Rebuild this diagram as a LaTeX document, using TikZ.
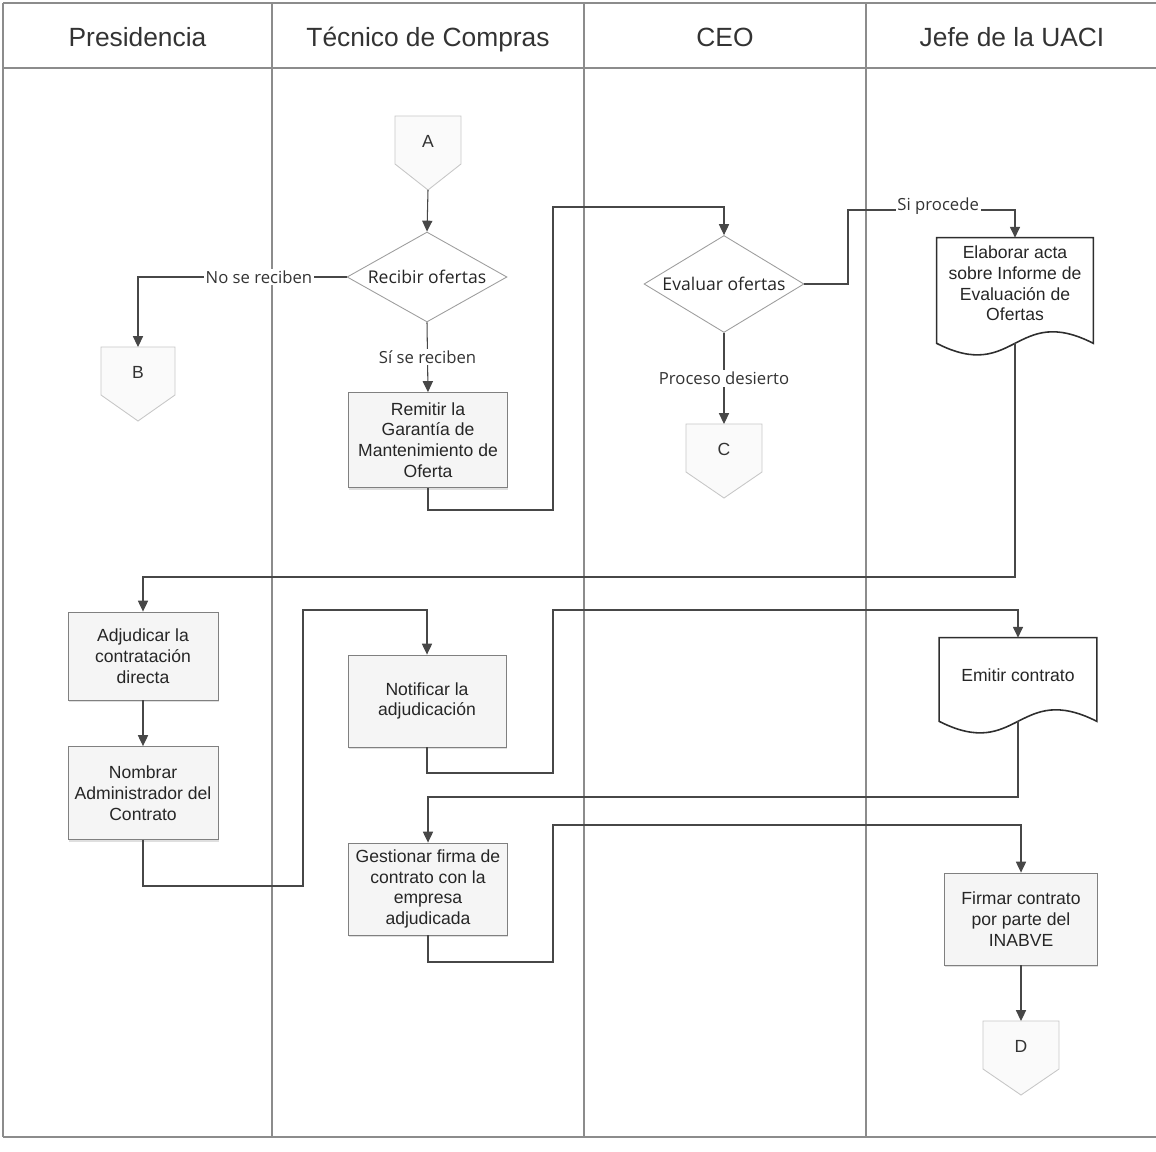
\documentclass[tikz,border=0pt]{standalone}
\usepackage{fontspec}
\setmainfont{Liberation Sans}
\newfontfamily\lblfont{Open Sans}
\usetikzlibrary{shapes.geometric,arrows.meta,calc,shadows}

\tikzset{
  lane/.style={draw=black!45, line width=0.6pt},
  conn/.style={draw=black!72, line width=0.6pt, -{Triangle[length=6.2pt,width=5.8pt]}},
  proc/.style={rectangle, draw=black!50, line width=0.5pt, fill=black!4,
    text=black!85, align=center, font=\fontsize{10}{11.8}\selectfont, inner sep=2pt,
    drop shadow={shadow xshift=0.4pt, shadow yshift=-1.4pt, opacity=0.25}},
  dec/.style={diamond, draw=black!38, fill=white, line width=0.5pt, text=black!85,
    font=\lblfont\fontsize{10}{12}\selectfont, aspect=1.8, inner sep=0pt},
  docbox/.style={rectangle, align=center, text=black!85,
    font=\fontsize{10}{11.8}\selectfont, inner sep=0pt},
  docline/.style={draw=black!82, line width=0.9pt},
  offline/.style={draw=black!22, fill=black!2, line width=0.5pt},
  offtext/.style={font=\fontsize{10}{12}\selectfont, text=black!80},
  lbl/.style={fill=white, inner sep=1pt, text=black!80,
    font=\lblfont\fontsize{9.5}{11}\selectfont},
  head/.style={anchor=base, font=\fontsize{15}{18}\selectfont, text=black!80}
}

% off-page connector: name, centre x, top y, width, letter
\newcommand{\offpage}[5]{%
  \draw[offline] (#2-#4/2,#3) -- (#2+#4/2,#3) -- (#2+#4/2,#3+48) -- (#2,#3+74)
    -- (#2-#4/2,#3+48) -- cycle;
  \node[offtext] (#1) at (#2,#3+25) {#5};
  \coordinate (#1in) at (#2,#3);
  \coordinate (#1out) at (#2,#3+74);
}

% document outline below a docbox node: name, drop of the wavy edge below the box
\newcommand{\docoutline}[2]{%
  \draw[docline] (#1.north west) -- (#1.north east) -- ($(#1.south east)+(0,#2)$)
    .. controls ($(#1.south)+(0,#2-40)$) and ($(#1.south)+(0,#2+40)$) ..
    ($(#1.south west)+(0,#2)$) -- cycle;
  \coordinate (#1out) at ($(#1.south)+(0,#2)$);
}

\begin{document}
\begin{tikzpicture}[x=0.02cm,y=-0.02cm]
\useasboundingbox (0,0) rectangle (1156,1152);

% swimlane frame
\draw[lane] (3,3) -- (1156,3);
\draw[lane] (3,68) -- (1156,68);
\draw[lane] (3,1137) -- (1156,1137);
\draw[lane] (3,3) -- (3,1137);
\draw[lane] (272,3) -- (272,1137);
\draw[lane] (584,3) -- (584,1137);
\draw[lane] (866,3) -- (866,1137);

\node[head] (h1) at (137.5,47) {Presidencia};
\node[head] (h2) at (428,47) {Técnico de Compras};
\node[head] (h3) at (725,47) {CEO};
\node[head] (h4) at (1012,47) {Jefe de la UACI};

% off-page connectors
\offpage{A}{428}{116}{66}{A}
\offpage{B}{138}{347}{74}{B}
\offpage{C}{724}{424}{76}{C}
\offpage{D}{1021}{1021}{76}{D}

% decisions
\node[dec, minimum width=3.2cm, minimum height=1.8cm] (rec) at (427,277) {Recibir ofertas};
\node[dec, minimum width=3.2cm, minimum height=1.94cm] (eval) at (724,284) {Evaluar ofertas};

% process steps
\node[proc, minimum width=3.18cm, minimum height=1.9cm] (rem) at (428,440)
  {Remitir la\\Garantía de\\Mantenimiento de\\Oferta};
\node[proc, minimum width=3.0cm, minimum height=1.76cm] (adj) at (143,656)
  {Adjudicar la\\contratación\\directa};
\node[proc, minimum width=3.0cm, minimum height=1.86cm] (nom) at (143,793)
  {Nombrar\\Administrador del\\Contrato};
\node[proc, minimum width=3.16cm, minimum height=1.84cm] (notif) at (427,701)
  {Notificar la\\adjudicación};
\node[proc, minimum width=3.18cm, minimum height=1.84cm] (gest) at (428,889)
  {Gestionar firma de\\contrato con la\\empresa\\adjudicada};
\node[proc, minimum width=3.06cm, minimum height=1.84cm] (firm) at (1021,919)
  {Firmar contrato\\por parte del\\INABVE};

% documents
\node[docbox, minimum width=3.12cm, minimum height=1.82cm] (elab) at (1015,283.5)
  {Elaborar acta\\sobre Informe de\\Evaluación de\\Ofertas};
\docoutline{elab}{14}

\node[docbox, minimum width=3.14cm, minimum height=1.48cm] (emit) at (1018,675)
  {Emitir contrato};
\docoutline{emit}{9}

% connectors
\draw[conn] (Aout) -- (rec.north);
\draw[conn] (rec.west) -| node[lbl, pos=0.21] {No se reciben} (Bin);
\draw[conn] (rec.south) -- node[lbl] {Sí se reciben} (rem.north);
\draw[conn] (rem.south) |- (553,510) -- (553,207) -| (eval.north);
\draw[conn] (eval.east) -| (848,210) -| node[lbl, pos=0.27, yshift=2pt] {Si procede} (elab.north);
\draw[conn] (eval.south) -- node[lbl] {Proceso desierto} (Cin);
\draw[conn] (elabout) |- (143,577) -- (adj.north);
\draw[conn] (adj.south) -- (nom.north);
\draw[conn] (nom.south) |- (303,886) -- (303,610) -| (notif.north);
\draw[conn] (notif.south) |- (553,773) -- (553,610) -| (emit.north);
\draw[conn] (emitout) |- (428,797) -- (gest.north);
\draw[conn] (gest.south) |- (553,962) -- (553,825) -| (firm.north);
\draw[conn] (firm.south) -- (Din);

\end{tikzpicture}
\end{document}
